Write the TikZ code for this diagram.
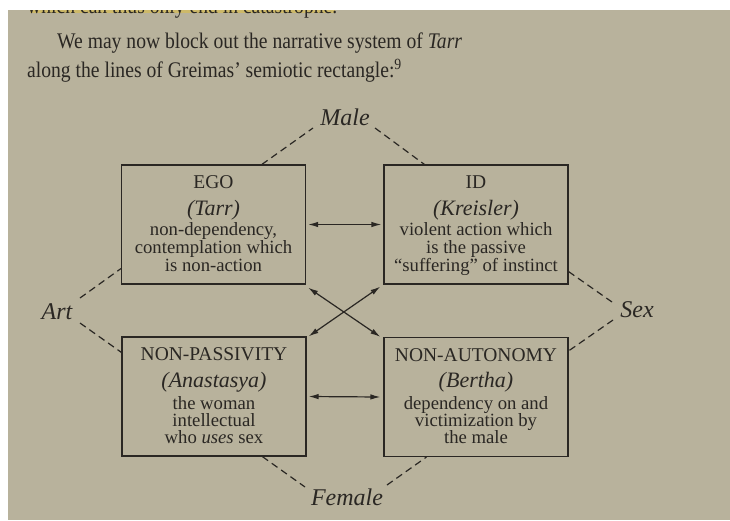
\documentclass[tikz,border=0pt]{standalone}
\usepackage{fontspec}
\setmainfont{Liberation Serif}
\newfontfamily\pagefont[FakeStretch=0.88]{Liberation Serif}
\usetikzlibrary{arrows.meta,calc}
\definecolor{pagebg}{RGB}{184,178,156}
\definecolor{ink}{RGB}{42,39,35}
\definecolor{hilite}{RGB}{205,185,105}
\begin{document}
\begin{tikzpicture}[x=1pt,y=-1pt,
  page/.style={font=\pagefont\fontsize{22.3}{22.3}\selectfont, text=ink, inner sep=0pt, anchor=base west},
  box/.style={draw=ink, line width=1.2pt, minimum width=184pt, minimum height=119pt, inner sep=0pt},
  ttl/.style={font=\fontsize{19.5}{19.5}\selectfont, text=ink, inner sep=0pt, anchor=base},
  nm/.style={font=\fontsize{22}{22}\selectfont\itshape, text=ink, inner sep=0pt, anchor=base},
  ln/.style={font=\fontsize{18.7}{18.7}\selectfont, text=ink, inner sep=0pt, anchor=base},
  lbl/.style={font=\fontsize{24}{24}\selectfont\itshape, text=ink, inner sep=0pt, anchor=base},
  rel/.style={draw=ink, line width=1.2pt, dash pattern=on 7pt off 4.5pt},
  dbl/.style={draw=ink, line width=1.2pt, {Latex[length=10pt,width=5.5pt]}-{Latex[length=10pt,width=5.5pt]}}
]
\useasboundingbox (0,0) rectangle (730,520);
\fill[white] (0,0) rectangle (730,520);
\fill[pagebg] (8,10) rectangle (730,520);
\begin{scope}
  \clip (8,10) rectangle (730,520);
  \fill[hilite] (30,10) rectangle (335,13);
  \node[page] (line0) at (27,13.5) {which can thus only end in catastrophe.};
\end{scope}
\node[page] (line1) at (57,48) {We may now block out the narrative system of \textit{Tarr}};
\node[page] (line2) at (27,77) {along the lines of Greimas’ semiotic rectangle:\textsuperscript{9}};

% boxes
\node[box] (ego) at (213.5,224.5) {};
\node[box] (id)  at (476,224.5) {};
\node[box] (np)  at (214,396.5) {};
\node[box] (na)  at (476,397) {};

% EGO
\node[ttl] (egoA) at ($(ego.north)+(0,24)$) {EGO};
\node[nm]  (egoB) at ($(ego.north)+(0,51)$) {(Tarr)};
\node[ln]  (egoC) at ($(ego.north)+(0,71)$) {non-dependency,};
\node[ln]  (egoD) at ($(ego.north)+(0,89)$) {contemplation which};
\node[ln]  (egoE) at ($(ego.north)+(0,107)$) {is non-action};
% ID
\node[ttl] (idA) at ($(id.north)+(0,24)$) {ID};
\node[nm]  (idB) at ($(id.north)+(0,51)$) {(Kreisler)};
\node[ln]  (idC) at ($(id.north)+(0,71)$) {violent action which};
\node[ln]  (idD) at ($(id.north)+(0,89)$) {is the passive};
\node[ln]  (idE) at ($(id.north)+(0,107)$) {``suffering'' of instinct};
% NON-PASSIVITY
\node[ttl] (npA) at ($(np.north)+(0,24.5)$) {NON-PASSIVITY};
\node[nm]  (npB) at ($(np.north)+(0,51)$) {(Anastasya)};
\node[ln]  (npC) at ($(np.north)+(0,73)$) {the woman};
\node[ln]  (npD) at ($(np.north)+(0,90)$) {intellectual};
\node[ln]  (npE) at ($(np.north)+(0,107)$) {who \textit{uses} sex};
% NON-AUTONOMY
\node[ttl] (naA) at ($(na.north)+(0,24.5)$) {NON-AUTONOMY};
\node[nm]  (naB) at ($(na.north)+(0,51)$) {(Bertha)};
\node[ln]  (naC) at ($(na.north)+(0,73)$) {dependency on and};
\node[ln]  (naD) at ($(na.north)+(0,90)$) {victimization by};
\node[ln]  (naE) at ($(na.north)+(0,107)$) {the male};

% outer labels
\node[lbl] (male)   at (345,125) {Male};
\node[lbl] (female) at (347,505) {Female};
\node[lbl] (art)    at (57,319) {Art};
\node[lbl] (sex)    at (637,317) {Sex};

% dashed relations
\draw[rel] ($(ego.north west)+(141,0)$) -- ($(male.base)+(-32,3)$);
\draw[rel] ($(male.base)+(30,3)$) -- ($(id.north west)+(41,0)$);
\draw[rel] ($(np.south west)+(141,0)$) -- ($(female.base)+(-42,-18)$);
\draw[rel] ($(female.base)+(40,-20)$) -- ($(na.south west)+(43,0)$);
\draw[rel] ($(art.base)+(23,-21)$) -- ($(ego.south west)+(0,-16)$);
\draw[rel] ($(art.base)+(23,4)$) -- ($(np.north west)+(0,16)$);
\draw[rel] ($(id.south east)+(0,-13)$) -- ($(sex.base)+(-25,-15)$);
\draw[rel] ($(sex.base)+(-24,3)$) -- ($(na.north east)+(0,14)$);

% arrows
\draw[dbl] ($(ego.east)+(2,0)$) -- ($(id.west)+(-2,0)$);
\draw[dbl] ($(np.east)+(2,0)$) -- ($(na.west)+(-3,0)$);
\draw[dbl] ($(ego.south east)+(2,3)$) -- ($(na.north west)+(-3,0)$);
\draw[dbl] ($(id.south west)+(-3,2)$) -- ($(np.north east)+(2,0)$);
\end{tikzpicture}
\end{document}
